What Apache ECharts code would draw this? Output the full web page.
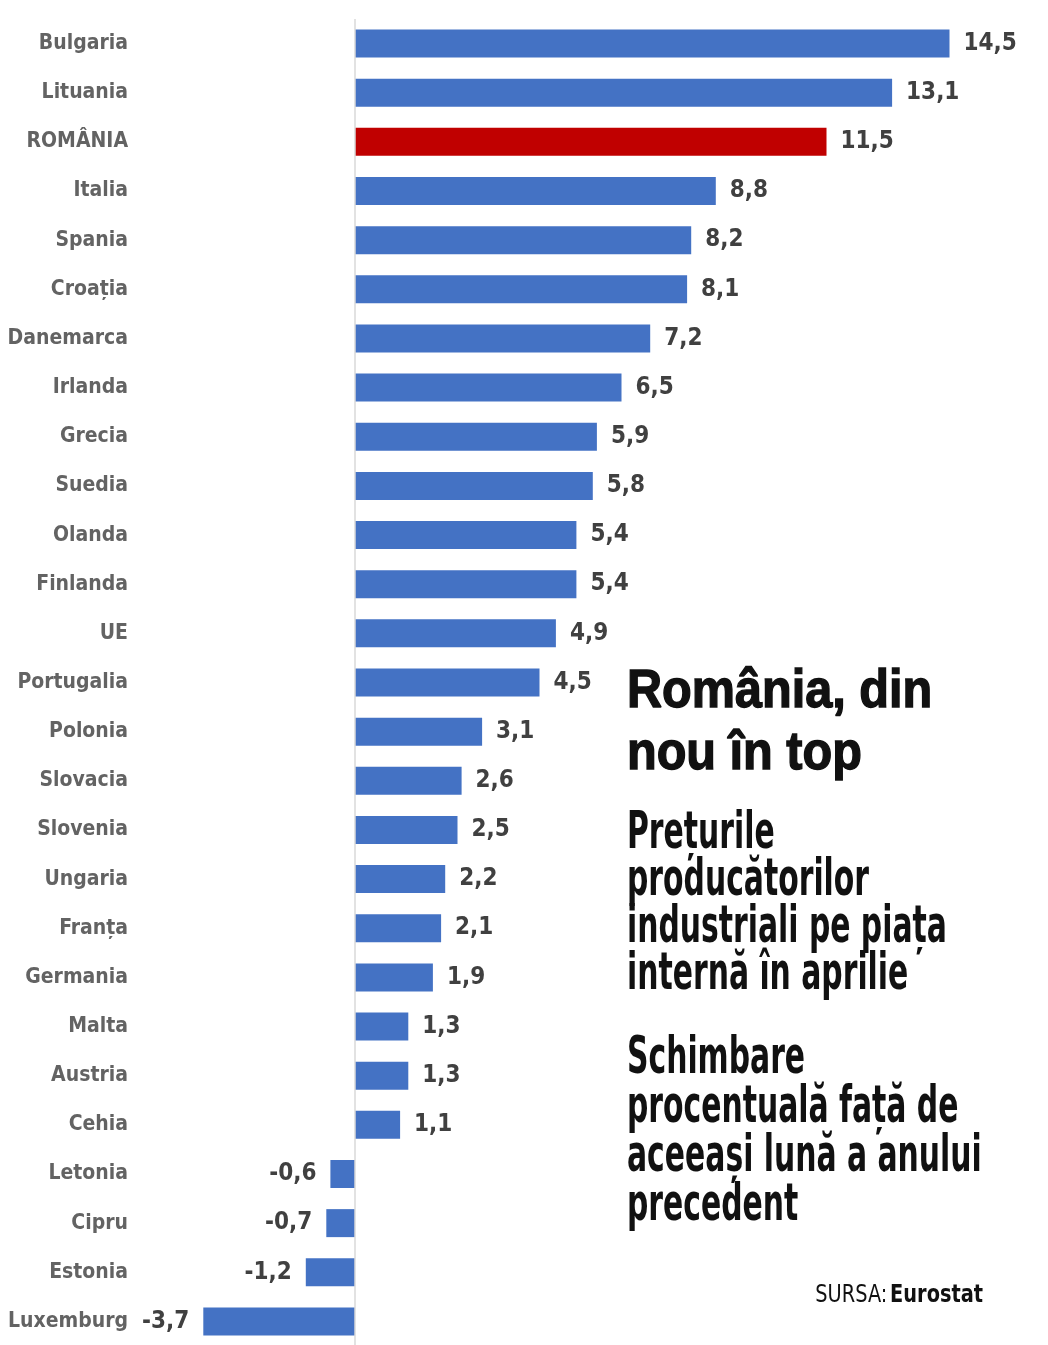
<!DOCTYPE html>
<html>
<head>
<meta charset="utf-8">
<script src="https://cdn.jsdelivr.net/npm/echarts@6/dist/echarts.min.js"></script>
<style>
  html, body { margin: 0; padding: 0; background: #fff; }
  #chart { width: 1048px; height: 1345px; }
</style>
</head>
<body>
<div id="chart"></div>
<script>
var countries = ['Bulgaria', 'Lituania', 'ROMÂNIA', 'Italia', 'Spania', 'Croația', 'Danemarca',
    'Irlanda', 'Grecia', 'Suedia', 'Olanda', 'Finlanda', 'UE', 'Portugalia', 'Polonia',
    'Slovacia', 'Slovenia', 'Ungaria', 'Franța', 'Germania', 'Malta', 'Austria', 'Cehia',
    'Letonia', 'Cipru', 'Estonia', 'Luxemburg'];
var values = [14.5, 13.1, 11.5, 8.8, 8.2, 8.1, 7.2, 6.5, 5.9, 5.8, 5.4, 5.4, 4.9, 4.5, 3.1,
    2.6, 2.5, 2.2, 2.1, 1.9, 1.3, 1.3, 1.1, -0.6, -0.7, -1.2, -3.7];
var highlight = 'ROMÂNIA';

var titleLines = ['România, din', 'nou în top'];
var subLines = ['Prețurile', 'producătorilor', 'industriali pe piața', 'internă în aprilie'];
var noteLines = ['Schimbare', 'procentuală față de', 'aceeași lună a anului', 'precedent'];

var COND = '"DejaVu Sans Condensed", "DejaVu Sans", sans-serif';
var SANS = '"Liberation Sans", Arial, sans-serif';
var BLUE = '#4472c4';
var RED = '#c00000';

var myChart = echarts.init(document.getElementById('chart'));

function fmt(v) {
    return String(v.toFixed(1)).replace('.', ',');
}

var barData = [];
for (var i = 0; i < values.length; i++) {
    var v = values[i];
    barData.push({
        value: v,
        itemStyle: { color: countries[i] == highlight ? RED : BLUE },
        label: { position: v < 0 ? 'left' : 'right' }
    });
}

// text block on the right (condensed by scaling)
var graphics = [];
function addLines(lines, top, step, font, sx, stroke) {
    for (var i = 0; i < lines.length; i++) {
        var st = {
            text: lines[i],
            font: font,
            fill: '#111',
            verticalAlign: 'top'
        };
        if (stroke) {
            st.stroke = '#111';
            st.lineWidth = stroke;
        }
        graphics.push({
            type: 'text',
            x: 627,
            y: top + i * step,
            scaleX: sx,
            style: st
        });
    }
}
addLines(titleLines, 665, 62, 'bold 54px ' + SANS, 0.9, 1.4);
addLines(subLines, 809, 47, 'bold 51px ' + COND, 0.65, 0);
addLines(noteLines, 1034, 49, 'bold 51px ' + COND, 0.65, 0);

graphics.push({
    type: 'text',
    x: 983,
    y: 1283,
    scaleX: 0.86,
    style: {
        text: '{a|SURSA:} {b|Eurostat}',
        align: 'right',
        verticalAlign: 'top',
        rich: {
            a: { fontFamily: COND, fontSize: 25, fontWeight: 'normal', fill: '#111' },
            b: { fontFamily: COND, fontSize: 25, fontWeight: 'bold', fill: '#111' }
        }
    }
});

var option = {
    animation: false,
    backgroundColor: '#fff',
    grid: {
        left: 150, right: 37, top: 19, height: 1327,
        containLabel: false,
        outerBoundsMode: 'none'
    },
    xAxis: {
        type: 'value',
        min: -5,
        max: 16,
        show: false
    },
    yAxis: {
        type: 'category',
        inverse: true,
        data: countries,
        axisLine: { show: false, onZero: false },
        axisTick: { show: false },
        axisLabel: {
            margin: 22,
            color: '#636363',
            fontFamily: COND,
            fontWeight: 'bold',
            fontSize: 21
        }
    },
    series: [{
        type: 'bar',
        data: barData,
        barWidth: 28,
        label: {
            show: true,
            distance: 14,
            color: '#404040',
            fontFamily: COND,
            fontWeight: 'bold',
            fontSize: 24,
            formatter: function(p) { return fmt(p.value); }
        },
        markLine: {
            silent: true,
            symbol: 'none',
            label: { show: false },
            lineStyle: { color: '#d9d9d9', width: 1.5, type: 'solid' },
            data: [{ xAxis: 0 }]
        }
    }],
    graphic: graphics
};

myChart.setOption(option);
</script>
</body>
</html>
